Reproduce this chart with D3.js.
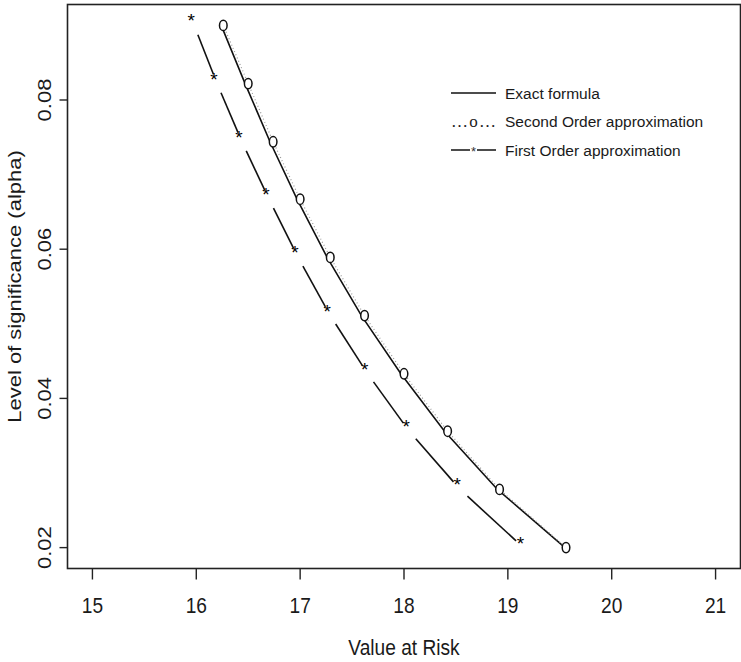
<!DOCTYPE html>
<html>
<head>
<meta charset="utf-8">
<script src="https://cdn.jsdelivr.net/npm/d3@7"></script>
<style>
    body { margin: 0; background: #fff; }
    svg text { font-family: "Liberation Sans", Arial, sans-serif; fill: #1a1a1a; }
</style>
</head>
<body>
<div id="chart"></div>
<script>
// significance levels shared by all three curves
let alpha_levels = [0.09, 0.0822, 0.0744, 0.0667, 0.0589, 0.0511, 0.0433, 0.0356, 0.0278, 0.02];
let var_exact = [16.24, 16.47, 16.71, 16.97, 17.26, 17.59, 17.97, 18.39, 18.90, 19.55];
let var_second_order = [16.26, 16.50, 16.74, 17.00, 17.29, 17.62, 18.00, 18.42, 18.92, 19.56];
let var_first_order = [15.98, 16.20, 16.44, 16.70, 16.98, 17.29, 17.65, 18.05, 18.54, 19.15];

let x_ticks = [15, 16, 17, 18, 19, 20, 21];
let y_ticks = [0.02, 0.04, 0.06, 0.08];

let legend_labels = ['Exact formula', 'Second Order approximation', 'First Order approximation'];
let x_title = 'Value at Risk';
let y_title = 'Level of significance (alpha)';

let width = 741, height = 662;
let plot_left = 67.5, plot_right = 740.5, plot_top = 4.5, plot_bottom = 568.5;
let squeeze = 0.87;

function to_points(xs) {
    return xs.map((v, i) => ({x: v, y: alpha_levels[i]}));
}

function draw_chart() {
    let svg = d3.select('#chart').append('svg')
        .attr('width', width)
        .attr('height', height);

    // R style: range extended by 4 percent on each side
    let x = d3.scaleLinear().domain([14.76, 21.24]).range([plot_left, plot_right]);
    let y = d3.scaleLinear().domain([0.0172, 0.0928]).range([plot_bottom, plot_top]);

    let line = d3.line().x(d => x(d.x)).y(d => y(d.y));

    // exact formula, solid
    svg.append('path')
        .datum(to_points(var_exact))
        .attr('d', line)
        .attr('fill', 'none')
        .attr('stroke', '#111')
        .attr('stroke-width', 1.6);

    // second order, dotted + o
    let second_points = to_points(var_second_order);
    svg.append('path')
        .datum(second_points)
        .attr('d', line)
        .attr('fill', 'none')
        .attr('stroke', '#9a9a9a')
        .attr('stroke-width', 1.2)
        .attr('stroke-dasharray', '1,2.5');

    svg.selectAll('.second-mark')
        .data(second_points)
        .enter().append('ellipse')
        .attr('class', 'second-mark')
        .attr('cx', d => x(d.x))
        .attr('cy', d => y(d.y))
        .attr('rx', 3.8)
        .attr('ry', 5.2)
        .attr('fill', 'white')
        .attr('stroke', '#111')
        .attr('stroke-width', 1.5);

    // first order, type "b": segments with a gap round each point
    let first_points = to_points(var_first_order);
    let gap = 10;
    let segments = d3.pairs(first_points).map(p => {
        let x1 = x(p[0].x), y1 = y(p[0].y), x2 = x(p[1].x), y2 = y(p[1].y);
        let len = Math.hypot(x2 - x1, y2 - y1);
        let ux = (x2 - x1) / len, uy = (y2 - y1) / len;
        return {x1: x1 + ux * gap, y1: y1 + uy * gap, x2: x2 - ux * gap, y2: y2 - uy * gap};
    });
    svg.selectAll('.first-seg')
        .data(segments)
        .enter().append('line')
        .attr('class', 'first-seg')
        .attr('x1', d => d.x1).attr('y1', d => d.y1)
        .attr('x2', d => d.x2).attr('y2', d => d.y2)
        .attr('stroke', '#111')
        .attr('stroke-width', 1.6);

    svg.selectAll('.first-mark')
        .data(first_points)
        .enter().append('text')
        .attr('class', 'first-mark')
        .attr('x', d => x(d.x) - 3)
        .attr('y', d => y(d.y) + 2)
        .attr('text-anchor', 'middle')
        .style('font-size', '19px')
        .style('fill', '#000')
        .text('*');

    // box
    svg.append('rect')
        .attr('x', plot_left).attr('y', plot_top)
        .attr('width', plot_right - plot_left)
        .attr('height', plot_bottom - plot_top)
        .attr('fill', 'none')
        .attr('stroke', '#222')
        .attr('stroke-width', 1.6);

    // x axis
    let x_axis = svg.append('g');
    x_axis.selectAll('line')
        .data(x_ticks)
        .enter().append('line')
        .attr('x1', d => x(d)).attr('x2', d => x(d))
        .attr('y1', plot_bottom).attr('y2', plot_bottom + 11)
        .attr('stroke', '#222').attr('stroke-width', 1.4);
    x_axis.selectAll('text')
        .data(x_ticks)
        .enter().append('text')
        .attr('transform', d => 'translate(' + x(d) + ',' + (plot_bottom + 44) + ') scale(' + squeeze + ',1)')
        .attr('text-anchor', 'middle')
        .style('font-size', '22px')
        .text(d => d);

    // y axis
    let y_axis = svg.append('g');
    y_axis.selectAll('line')
        .data(y_ticks)
        .enter().append('line')
        .attr('x1', plot_left - 8).attr('x2', plot_left)
        .attr('y1', d => y(d)).attr('y2', d => y(d))
        .attr('stroke', '#222').attr('stroke-width', 1.4);
    y_axis.selectAll('text')
        .data(y_ticks)
        .enter().append('text')
        .attr('transform', d => 'translate(' + (plot_left - 17) + ',' + y(d) + ') scale(' + squeeze + ',1) rotate(-90)')
        .attr('text-anchor', 'middle')
        .style('font-size', '22px')
        .text(d => d3.format('.2f')(d));

    svg.append('text')
        .attr('transform', 'translate(' + ((plot_left + plot_right) / 2) + ',655) scale(' + squeeze + ',1)')
        .attr('text-anchor', 'middle')
        .style('font-size', '22px')
        .text(x_title);

    svg.append('text')
        .attr('transform', 'translate(21,' + ((plot_top + plot_bottom) / 2) + ') scale(' + squeeze + ',1) rotate(-90)')
        .attr('text-anchor', 'middle')
        .style('font-size', '22px')
        .text(y_title);

    draw_legend(svg);
}

function draw_legend(svg) {
    let legend = svg.append('g').attr('transform', 'translate(451,93)');
    let row_step = 28.5;

    legend.selectAll('text.legend-label')
        .data(legend_labels)
        .enter().append('text')
        .attr('class', 'legend-label')
        .attr('x', 54)
        .attr('y', (d, i) => i * row_step + 5.5)
        .style('font-size', '15.5px')
        .text(d => d);

    legend.append('line')
        .attr('x1', 0).attr('x2', 45).attr('y1', 0).attr('y2', 0)
        .attr('stroke', '#111').attr('stroke-width', 1.3);

    legend.append('text')
        .attr('x', 0).attr('y', row_step + 5)
        .attr('textLength', 45)
        .style('font-size', '17px')
        .style('font-family', '"Liberation Serif", serif')
        .text('\u2026o\u2026');

    legend.append('line')
        .attr('x1', 0).attr('x2', 45).attr('y1', row_step * 2).attr('y2', row_step * 2)
        .attr('stroke', '#111').attr('stroke-width', 1.3);
    legend.append('rect')
        .attr('x', 19).attr('y', row_step * 2 - 5).attr('width', 7).attr('height', 10)
        .attr('fill', 'white');
    legend.append('text')
        .attr('x', 22.5).attr('y', row_step * 2 + 6)
        .attr('text-anchor', 'middle')
        .style('font-size', '13px')
        .style('fill', '#333')
        .text('*');
}

draw_chart();
</script>
</body>
</html>
